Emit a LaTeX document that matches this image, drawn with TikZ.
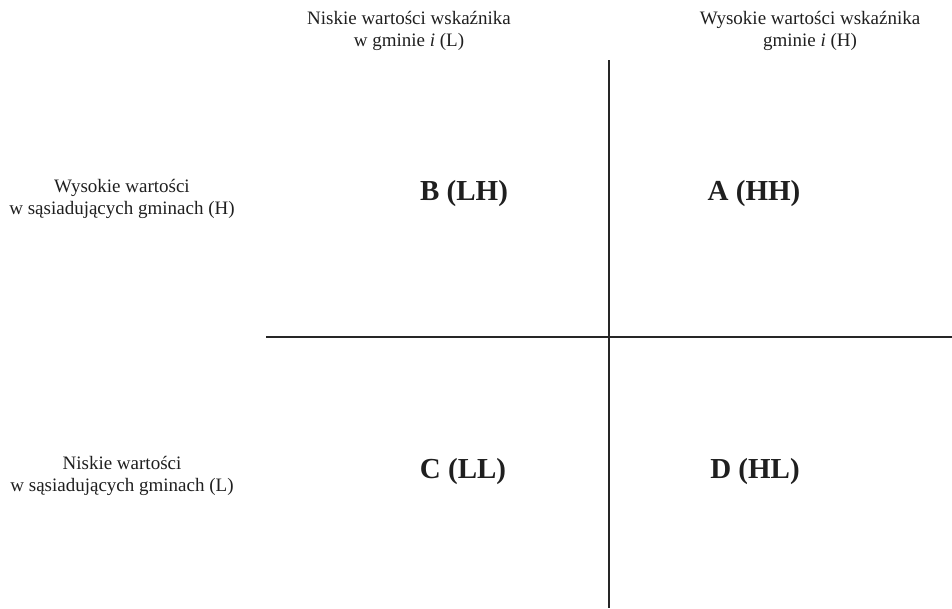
\documentclass[tikz,border=0pt]{standalone}
\usepackage{fontspec}
\setmainfont{Liberation Serif}
\begin{document}
\begin{tikzpicture}[x=1pt,y=-1pt,
  lbl/.style={align=center,inner sep=0pt,anchor=base,font=\fontsize{19}{22}\selectfont,text=black!88},
  side/.style={align=center,inner sep=0pt,anchor=base,font=\fontsize{19}{22}\selectfont,text=black!88},
  quad/.style={inner sep=0pt,anchor=base,font=\fontsize{29}{32}\selectfont\bfseries,text=black!88},
  axis/.style={line width=1.6pt,draw=black!85}]
\useasboundingbox (0,0) rectangle (952,608);
\node[lbl] (tl) at (409,46) {Niskie wartości wskaźnika\\w gminie \textit{i} (L)};
\node[lbl] (tr) at (810,46) {Wysokie wartości wskaźnika\\gminie \textit{i} (H)};
\node[side] (lh) at (122,214) {Wysokie wartości\\w sąsiadujących gminach (H)};
\node[side] (ll) at (122,491) {Niskie wartości\\w sąsiadujących gminach (L)};
\node[quad] (B) at (464,200) {B (LH)};
\node[quad] (A) at (754,200) {A (HH)};
\node[quad] (C) at (463,478) {C (LL)};
\node[quad] (D) at (755,478) {D (HL)};
\coordinate (vt) at (609,60);
\coordinate (vb) at (609,608);
\coordinate (hl) at (266,337);
\coordinate (hr) at (952,337);
\draw[axis] (vt) -- (vb);
\draw[axis] (hl) -- (hr);
\end{tikzpicture}
\end{document}
